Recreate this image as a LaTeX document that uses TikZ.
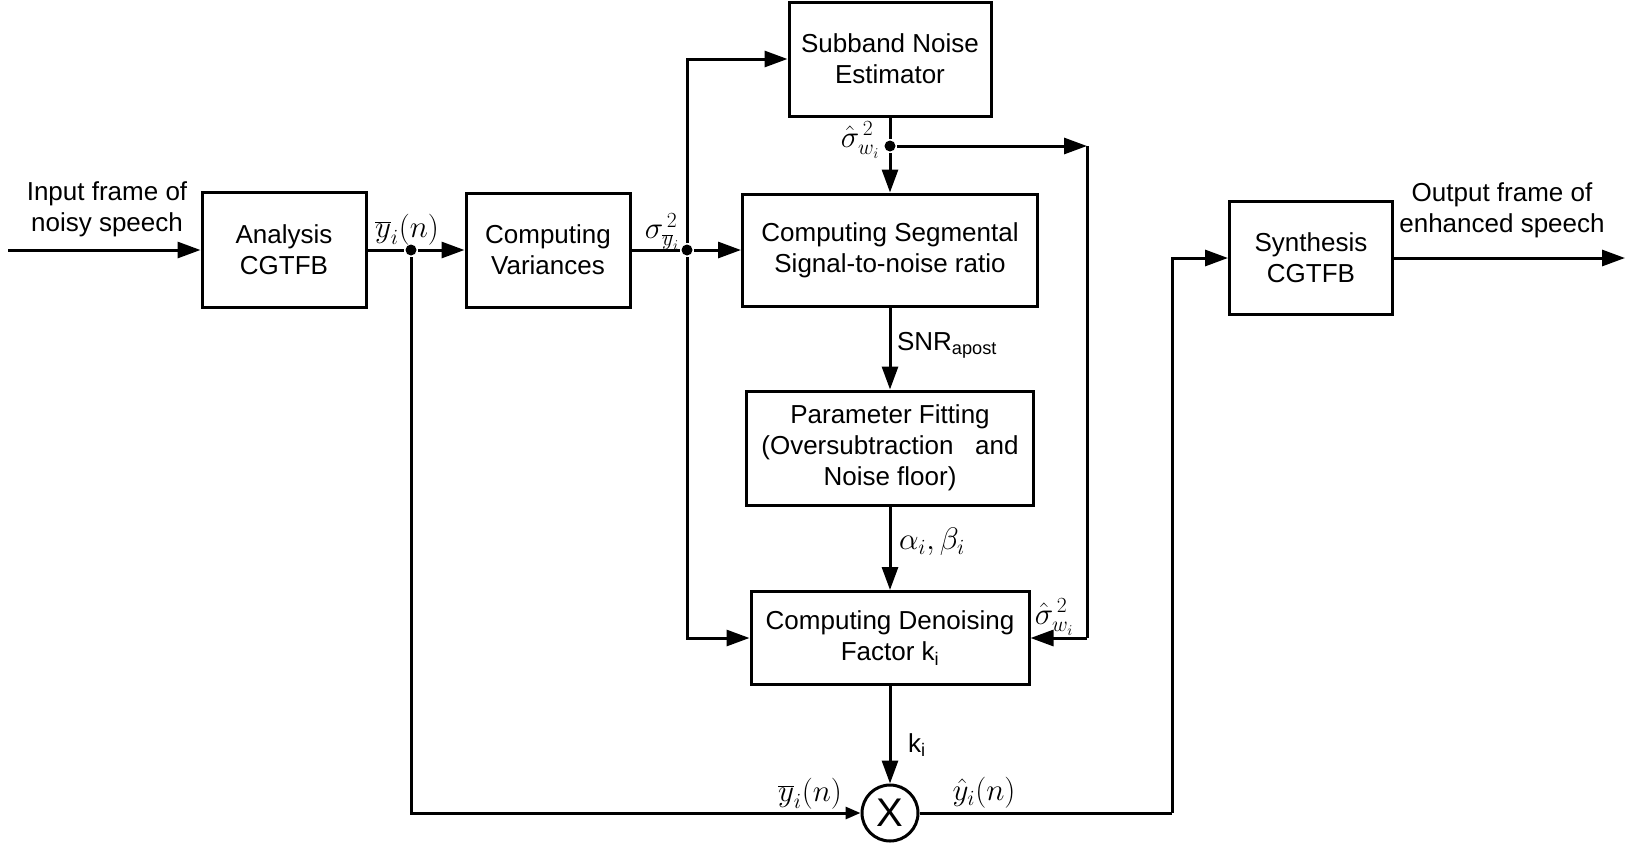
\documentclass[tikz,border=0pt]{standalone}
\usepackage{fontspec}
\setmainfont{Liberation Sans}
\usetikzlibrary{arrows.meta}
\newcommand{\sig}[1]{\scalebox{1.25}{$#1$}}
\begin{document}
\begin{tikzpicture}[x=1pt, y=-1pt, line width=3pt,
  >={Triangle[length=23pt,width=16pt]},
  txt/.style={font=\fontsize{26}{31}\selectfont, align=center},
  blk/.style={txt, draw, line width=3pt, inner sep=0pt},
  lbl/.style={font=\fontsize{26}{31}\selectfont, inner sep=0pt},
  mlbl/.style={font=\fontsize{24}{24}\selectfont, inner sep=0pt},
  jdot/.style={circle, fill, inner sep=0pt, minimum size=11pt},
  small/.style={-{Triangle[length=15pt,width=12pt]}}]
\useasboundingbox (0,0) rectangle (1625,852);

% processing blocks
\node[blk, minimum width=164pt, minimum height=115pt] (ana) at (284,250) {Analysis\\CGTFB};
\node[blk, minimum width=164pt, minimum height=114pt] (var) at (548,250) {Computing\\Variances};
\node[blk, minimum width=202pt, minimum height=114pt] (sub) at (890,59) {Subband Noise\\Estimator};
\node[blk, minimum width=295pt, minimum height=112pt] (seg) at (890,250) {Computing Segmental\\Signal-to-noise ratio};
\node[blk, minimum width=287pt, minimum height=114pt] (par) at (890,448) {Parameter Fitting\\(Oversubtraction\ \ \ and\\Noise floor)};
\node[blk, minimum width=278pt, minimum height=93pt] (den) at (890,638) {Computing Denoising\\Factor k\textsubscript{i}};
\node[blk, minimum width=163pt, minimum height=113pt] (syn) at (1311,258) {Synthesis\\CGTFB};
\node[draw, circle, line width=3pt, minimum size=56pt, inner sep=0pt, font=\fontsize{40}{40}\selectfont] (mul) at (890,813) {X};

% input / output texts
\node[txt] (intxt) at (107,209) {Input frame of\\noisy speech};
\node[txt] (outtxt) at (1502,210) {Output frame of\\enhanced speech};

% branch points and free ends
\coordinate (inL) at (8,250);
\node[jdot] (d1) at (411,250) {};
\node[jdot] (d2) at (687,250) {};
\node[jdot] (d3) at (890,146) {};
\coordinate (r1) at (1087,146);
\coordinate (r2) at (1087,638);
\coordinate (c1) at (1172,813);
\coordinate (outR) at (1625,258);

% connectors
\draw[->] (inL) -- (ana.west);
\draw (ana.east) -- (d1);
\draw[->] (d1) -- (var.west);
\draw (var.east) -- (d2);
\draw[->] (d2) -- (seg.west);
\draw[->] (d2) |- (sub.west);
\draw[->] (d2) |- (den.west);
\draw (sub.south) -- (d3);
\draw[->] (d3) -- (seg.north);
\draw[->] (d3) -- (r1);
\draw (r1) -- (r2);
\draw[->] (r2) -- (den.east);
\draw[->] (seg.south) -- (par.north);
\draw[->] (par.south) -- (den.north);
\draw[->] (den.south) -- (mul.north);
\draw[small] (d1) |- (mul.west);
\draw (mul.east) -- (c1);
\draw[->] (c1) |- (syn.west);
\draw[->] (syn.east) -- (outR);

% signal labels
\node[mlbl, anchor=south] (l1) at (407,247) {\sig{\overline{y}_{i}(n)}};
\node[mlbl, anchor=east] (l2) at (681,232) {\sig{\sigma^{\,2}_{\overline{y}_{i}}}};
\node[mlbl, anchor=east] (l3) at (881,140) {\sig{\hat{\sigma}^{\,2}_{w_{i}}}};
\node[mlbl, anchor=east] (l4) at (1075,617) {\sig{\hat{\sigma}^{\,2}_{w_{i}}}};
\node[lbl] (l5) at (947,345) {SNR\textsubscript{apost}};
\node[mlbl] (l6) at (932,542) {\sig{\alpha_{i},\beta_{i}}};
\node[lbl] (l7) at (917,745) {k\textsubscript{i}};
\node[mlbl] (l8) at (810,794) {\sig{\overline{y}_{i}(n)}};
\node[mlbl] (l9) at (984,793) {\sig{\hat{y}_{i}(n)}};
\end{tikzpicture}
\end{document}
